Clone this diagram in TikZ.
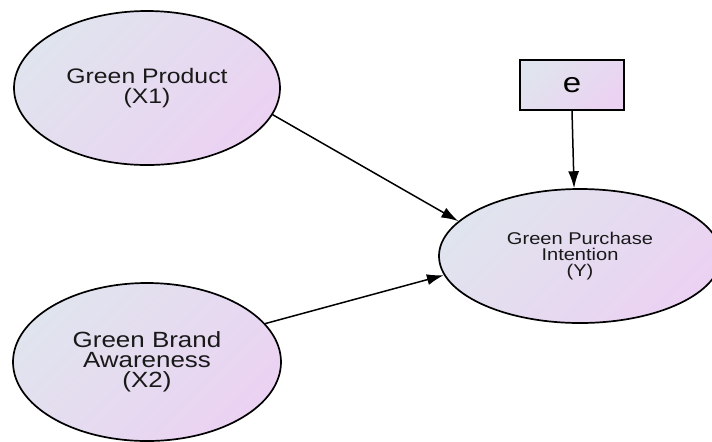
\documentclass[tikz,border=0pt]{standalone}
\usepackage{fontspec}
\setmainfont{Liberation Sans}
\newfontfamily\widesf[FakeStretch=1.18]{Liberation Sans}
\usetikzlibrary{arrows.meta,shapes.geometric,positioning}
\definecolor{shadeA}{HTML}{E0E4EE}
\definecolor{shadeB}{HTML}{EBD2F2}
\tikzset{latent/.style={ellipse,draw=black,line width=0.85pt,top color=shadeA,bottom color=shadeB,shading angle=45,inner sep=0pt,align=center,text=black!90}}
\tikzset{errbox/.style={rectangle,draw=black,line width=0.85pt,top color=shadeA,bottom color=shadeB,shading angle=45,inner sep=0pt,minimum width=52pt,minimum height=25pt}}
\tikzset{link/.style={-{Latex[length=8.5pt,width=5.5pt]},line width=0.75pt}}

\begin{document}
\begin{tikzpicture}[x=0.5pt,y=-0.5pt]
                \useasboundingbox (0,0) rectangle (712,441);
                \node[latent,minimum width=133pt,minimum height=77pt,font=\widesf\fontsize{10.5}{10}\selectfont]
                    (prod) at (147,88) {Green Product\\(X1)};
                \node[latent,minimum width=134pt,minimum height=79pt,font=\widesf\fontsize{11}{10}\selectfont]
                    (brand) at (147,362) {Green Brand\\Awareness\\(X2)};
                \node[latent,minimum width=141pt,minimum height=67pt,font=\widesf\fontsize{8.5}{8}\selectfont]
                    (intent) at (580,256) {Green Purchase\\Intention\\(Y)};
                \node[errbox,font=\widesf\fontsize{14}{14}\selectfont] (err) at (572,85) {e};
                \draw[link] (prod.-12) -- (intent.164.5);
                \draw[link] (brand.18.7) -- (intent.-172.9);
                \draw[link] (err.south) -- (intent.95.2);
            \end{tikzpicture}
\end{document}
